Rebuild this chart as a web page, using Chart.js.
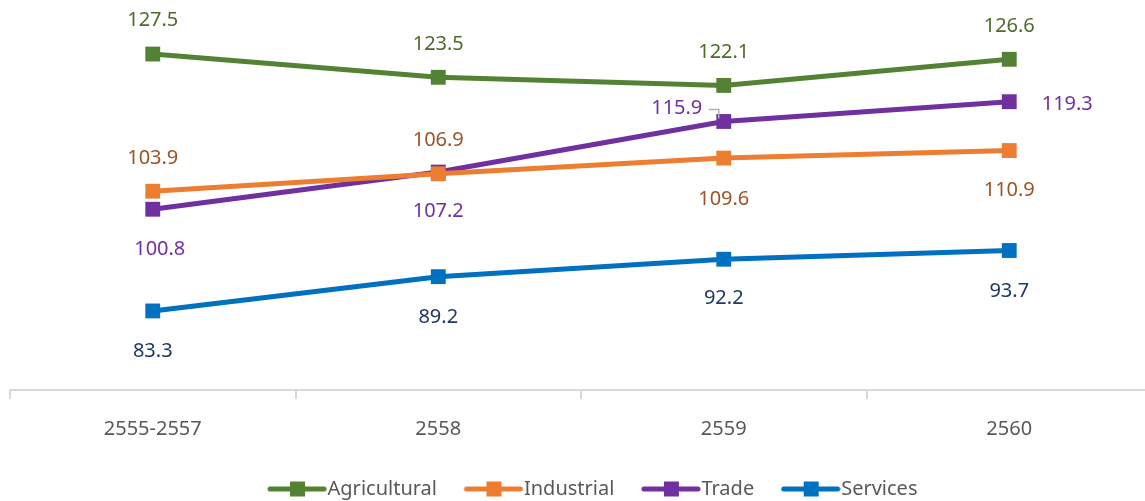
<!DOCTYPE html>
<html>
<head>
<meta charset="utf-8">
<script src="https://cdn.jsdelivr.net/npm/chart.js@4"></script>
<style>
  html, body { margin: 0; padding: 0; background: #fff; overflow: hidden; }
  #wrap { width: 1155px; height: 501px; }
</style>
</head>
<body>
<div id="wrap"><canvas id="chart"></canvas></div>
<script>
const categories = ['2555-2557', '2558', '2559', '2560'];
const agricultural = [127.5, 123.5, 122.1, 126.6];
const industrial = [103.9, 106.9, 109.6, 110.9];
const trade = [100.8, 107.2, 115.9, 119.3];
const services = [83.3, 89.2, 92.2, 93.7];

const FONT = "'Noto Sans', sans-serif";

// where each value label sits relative to its point (dx, dy)
const labelOffsets = [
    [[0, -34], [0, -33], [0, -33], [0, -33]],
    [[0, -33], [0, -33], [0, 41], [0, 40]],
    [[7, 40], [0, 39], [-47, -13], [58, 3]],
    [[0, 40], [0, 41], [0, 39], [0, 41]]
];
const labelColors = ['#4f6b2b', '#9a5526', '#7030a0', '#203864'];

// legend swatch: line with a square in the middle, pushed right so it touches the text
function legendSwatch(color) {
    const c = document.createElement('canvas');
    c.width = 92;
    c.height = 18;
    const g = c.getContext('2d');
    g.strokeStyle = color;
    g.lineWidth = 5;
    g.lineCap = 'round';
    g.beginPath();
    g.moveTo(35, 9);
    g.lineTo(89, 9);
    g.stroke();
    g.fillStyle = color;
    g.fillRect(55, 1.5, 15, 15);
    return c;
}

const valueLabels = {
    id: 'valueLabels',
    afterDatasetsDraw(chart) {
        const ctx = chart.ctx;
        ctx.save();
        ctx.font = '20px ' + FONT;
        ctx.textAlign = 'center';
        ctx.textBaseline = 'middle';
        chart.data.datasets.forEach((ds, i) => {
            const meta = chart.getDatasetMeta(i);
            meta.data.forEach((pt, j) => {
                const off = labelOffsets[i][j];
                ctx.fillStyle = labelColors[i];
                ctx.fillText(ds.data[j].toFixed(1), pt.x + off[0], pt.y + off[1]);
            });
        });
        // leader line for the 2559 trade label
        const p = chart.getDatasetMeta(2).data[2];
        ctx.strokeStyle = '#b4b4b4';
        ctx.lineWidth = 1.5;
        ctx.beginPath();
        ctx.moveTo(p.x - 15, p.y - 12);
        ctx.lineTo(p.x - 5, p.y - 12);
        ctx.lineTo(p.x - 5, p.y - 3);
        ctx.stroke();
        ctx.restore();
    }
};

function series(label, data, color) {
    return {
        label: label,
        data: data,
        borderColor: color,
        backgroundColor: color,
        borderWidth: 5,
        pointStyle: 'rect',
        pointRadius: 10.5,
        pointHoverRadius: 10.5,
        pointBorderWidth: 0,
        tension: 0,
        clip: false
    };
}

const swatches = ['#548235', '#ed7d31', '#7030a0', '#0070c0'].map(legendSwatch);

new Chart(document.getElementById('chart'), {
    type: 'line',
    data: {
        labels: categories,
        datasets: [
            series('Agricultural', agricultural, '#548235'),
            series('Industrial', industrial, '#ed7d31'),
            series('Trade', trade, '#7030a0'),
            series('Services', services, '#0070c0')
        ]
    },
    options: {
        responsive: true,
        maintainAspectRatio: false,
        animation: false,
        layout: { autoPadding: false, padding: { left: 10, right: 3, top: 0, bottom: -8 } },
        scales: {
            x: {
                offset: true,
                grid: {
                    offset: true,
                    drawOnChartArea: false,
                    tickLength: 9,
                    color: '#d9d9d9',
                    lineWidth: 2
                },
                border: { color: '#d9d9d9', width: 2 },
                ticks: {
                    color: '#595959',
                    font: { family: FONT, size: 20 },
                    padding: 18,
                    maxRotation: 0
                },
                afterFit(scale) {
                    scale.height += 16;
                }
            },
            y: {
                display: false,
                min: 69.7,
                max: 136.8
            }
        },
        plugins: {
            tooltip: { enabled: false },
            legend: {
                position: 'bottom',
                labels: {
                    usePointStyle: true,
                    pointStyleWidth: 73,
                    color: '#595959',
                    font: { family: FONT, size: 20 },
                    padding: 4,
                    generateLabels(chart) {
                        return chart.data.datasets.map((ds, i) => ({
                            text: ds.label,
                            pointStyle: swatches[i],
                            fontColor: '#595959',
                            strokeStyle: ds.borderColor,
                            fillStyle: ds.borderColor,
                            lineWidth: 0,
                            datasetIndex: i
                        }));
                    }
                }
            }
        }
    },
    plugins: [valueLabels]
});
</script>
</body>
</html>
